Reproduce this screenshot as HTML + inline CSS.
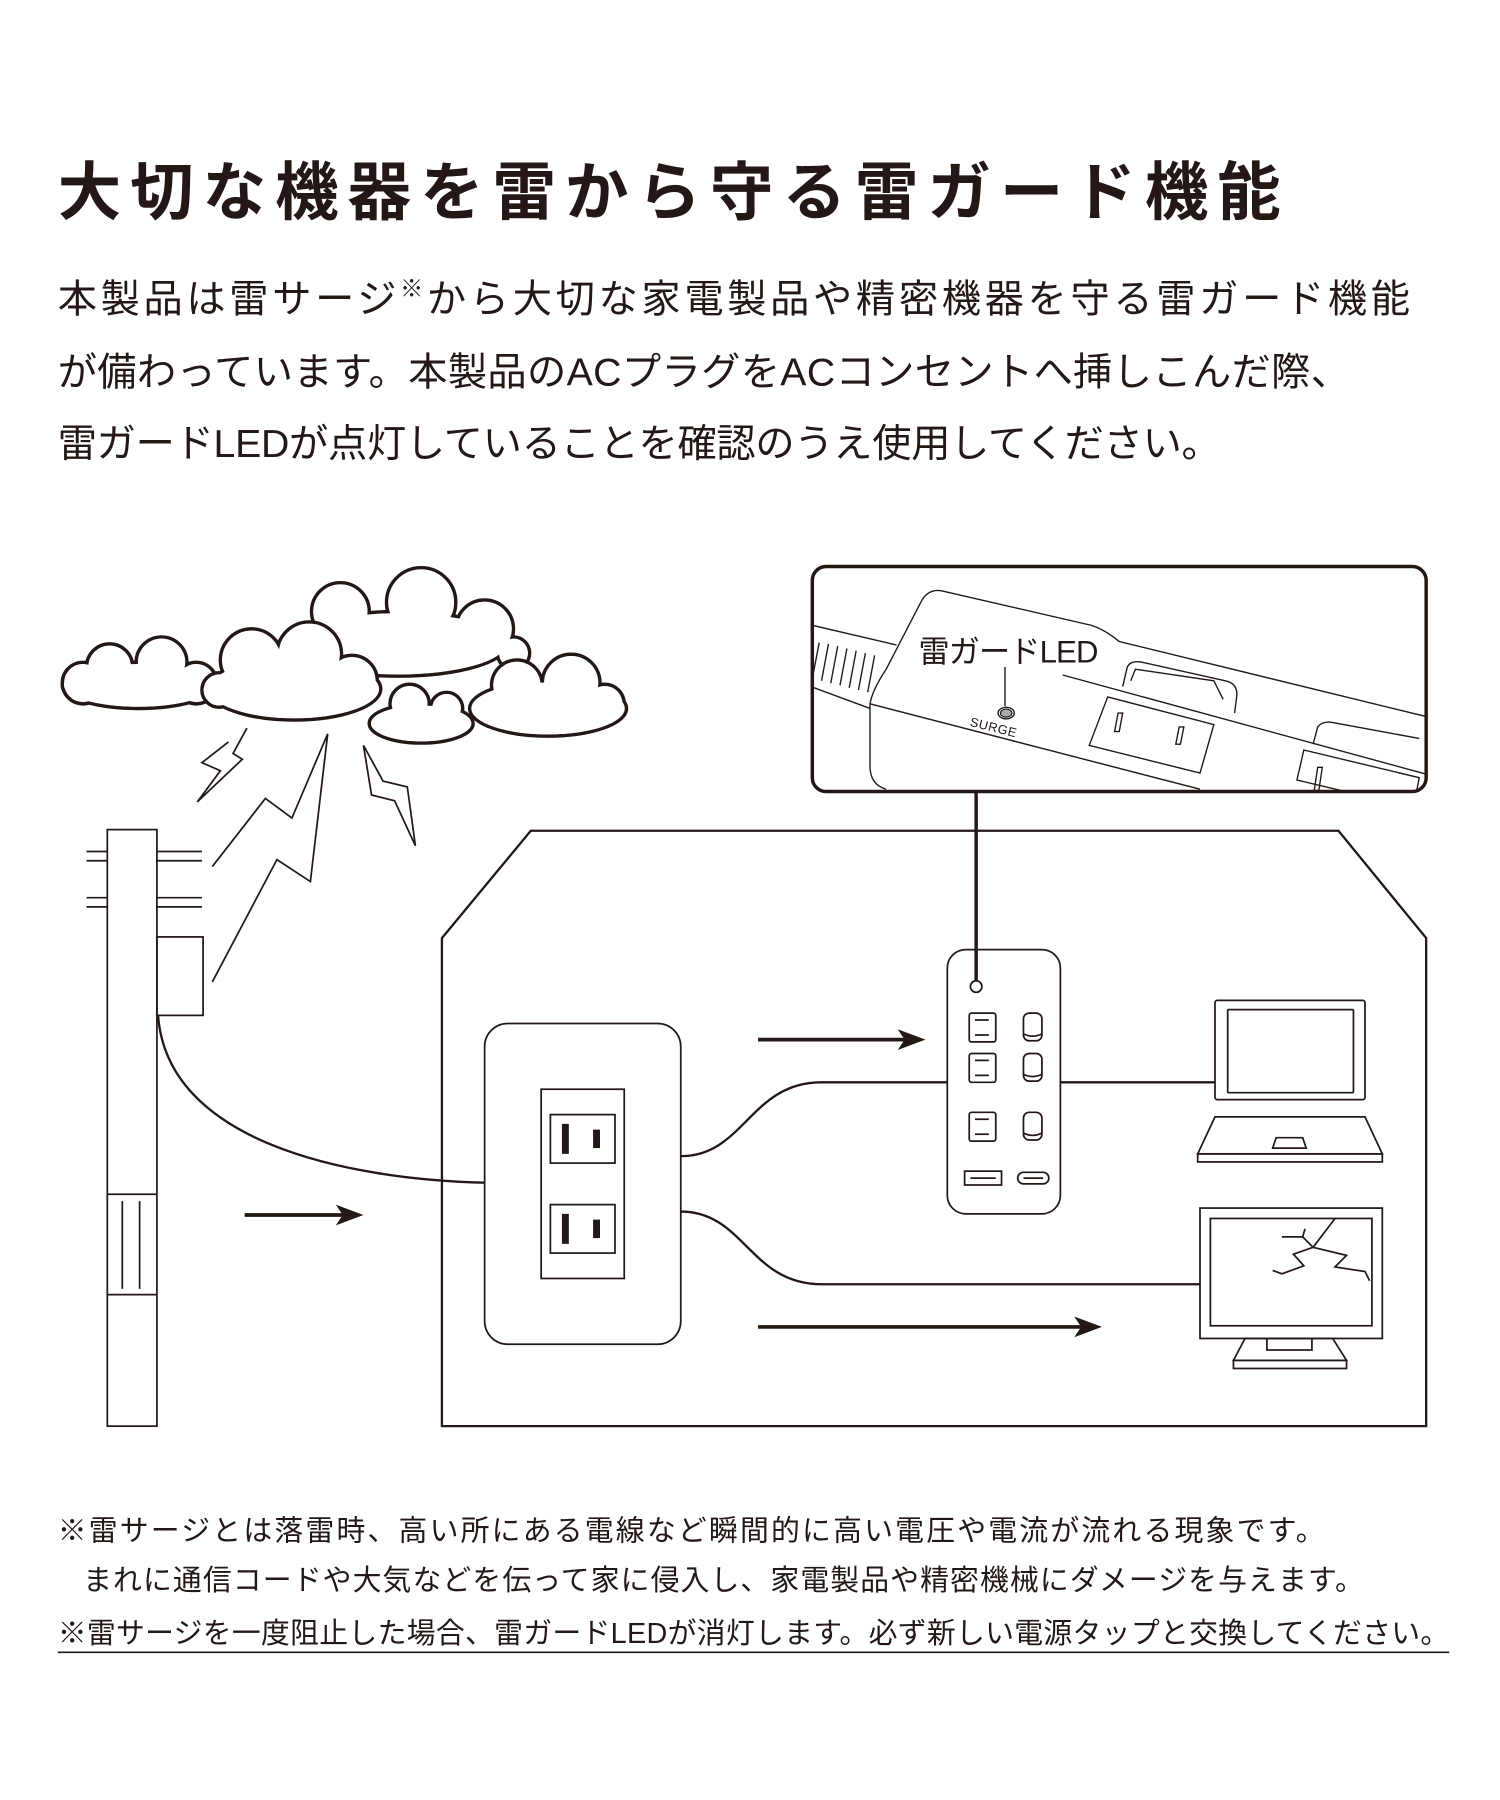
<!DOCTYPE html>
<html><head><meta charset="utf-8"><style>
html,body{margin:0;padding:0;background:#fff;}
svg{display:block;}
text{font-family:"Liberation Sans","Noto Sans CJK JP",sans-serif;fill:#231815;}
</style></head><body>
<svg width="1500" height="1800" viewBox="0 0 1300 1560" xmlns="http://www.w3.org/2000/svg">
<!-- Title -->
<text x="50" y="186" font-size="55" font-weight="700" textLength="1060" lengthAdjust="spacing">大切な機器を雷から守る雷ガード機能</text>
<!-- Body -->
<g font-size="34">
<text x="50" y="271" textLength="1172" lengthAdjust="spacing">本製品は雷サージ<tspan font-size="20" dy="-14">※</tspan><tspan dy="14">から大切な家電製品や精密機器を守る雷ガード機能</tspan></text>
<text x="50" y="334" textLength="1120" lengthAdjust="spacing">が備わっています。本製品のACプラグをACコンセントへ挿しこんだ際、</text>
<text x="50" y="396" textLength="1008" lengthAdjust="spacing">雷ガードLEDが点灯していることを確認のうえ使用してください。</text>
</g>
<!-- Footnotes -->
<g font-size="25">
<text x="50" y="1335" textLength="1098" lengthAdjust="spacing">※雷サージとは落雷時、高い所にある電線など瞬間的に高い電圧や電流が流れる現象です。</text>
<text x="72" y="1378" textLength="1110" lengthAdjust="spacing">まれに通信コードや大気などを伝って家に侵入し、家電製品や精密機械にダメージを与えます。</text>
<text x="50" y="1424" textLength="1206" lengthAdjust="spacing">※雷サージを一度阻止した場合、雷ガードLEDが消灯します。必ず新しい電源タップと交換してください。</text>
</g>
<line x1="50" y1="1432" x2="1256" y2="1432" stroke="#231815" stroke-width="1.5"/>

<g fill="none" stroke="#231815" stroke-width="1.5" stroke-linejoin="miter">
<!-- Clouds -->
<g><g stroke-width="3">
<ellipse cx="345" cy="558" rx="95" ry="28"/><circle cx="295" cy="530" r="25"/><circle cx="365" cy="522" r="30"/><circle cx="420" cy="545" r="25"/><circle cx="445" cy="566" r="14"/></g>
<g fill="#fff" stroke="none"><ellipse cx="345" cy="558" rx="93.5" ry="26.5"/><circle cx="295" cy="530" r="23.5"/><circle cx="365" cy="522" r="28.5"/><circle cx="420" cy="545" r="23.5"/><circle cx="445" cy="566" r="12.5"/></g></g>
<g><g stroke-width="3">
<ellipse cx="120" cy="594" rx="66" ry="20"/><circle cx="95" cy="578" r="20"/><circle cx="140" cy="574" r="22"/><circle cx="72" cy="592" r="18"/><circle cx="170" cy="592" r="18"/></g>
<g fill="#fff" stroke="none"><ellipse cx="120" cy="594" rx="64.5" ry="18.5"/><circle cx="95" cy="578" r="18.5"/><circle cx="140" cy="574" r="20.5"/><circle cx="72" cy="592" r="16.5"/><circle cx="170" cy="592" r="16.5"/></g></g>
<g><g stroke-width="3">
<ellipse cx="475" cy="614" rx="68" ry="24"/><circle cx="448" cy="594" r="22"/><circle cx="495" cy="592" r="25"/><circle cx="524" cy="610" r="17"/></g>
<g fill="#fff" stroke="none"><ellipse cx="475" cy="614" rx="66.5" ry="22.5"/><circle cx="448" cy="594" r="20.5"/><circle cx="495" cy="592" r="23.5"/><circle cx="524" cy="610" r="15.5"/></g></g>
<g><g stroke-width="3">
<ellipse cx="255" cy="597" rx="75" ry="27"/><circle cx="218" cy="572" r="27"/><circle cx="268" cy="567" r="28"/><circle cx="305" cy="590" r="22"/><circle cx="190" cy="598" r="15"/></g>
<g fill="#fff" stroke="none"><ellipse cx="255" cy="597" rx="73.5" ry="25.5"/><circle cx="218" cy="572" r="25.5"/><circle cx="268" cy="567" r="26.5"/><circle cx="305" cy="590" r="20.5"/><circle cx="190" cy="598" r="13.5"/></g></g>
<g><g stroke-width="3">
<ellipse cx="365" cy="627" rx="45" ry="17"/><circle cx="355" cy="610" r="17"/><circle cx="387" cy="614" r="14"/></g>
<g fill="#fff" stroke="none"><ellipse cx="365" cy="627" rx="43.5" ry="15.5"/><circle cx="355" cy="610" r="15.5"/><circle cx="387" cy="614" r="12.5"/></g></g>

<!-- Bolts -->
<polyline points="214,631 202,653 210,658 171,695 191,668 175,661 198,643" />
<polyline points="184,751 230,692 253,709 284,636 269,764 240,745 184,851"/>
<polygon points="315,646 322,689 342,694 360,733 353,682 332,677"/>

<!-- Pole -->
<rect x="93" y="719" width="43" height="517"/>
<line x1="93" y1="1035" x2="136" y2="1035"/><line x1="93" y1="1122" x2="136" y2="1122"/>
<line x1="106" y1="1041" x2="106" y2="1117"/><line x1="121" y1="1041" x2="121" y2="1117"/>
<line x1="75" y1="738" x2="93" y2="738"/><line x1="75" y1="746" x2="93" y2="746"/>
<line x1="75" y1="778" x2="93" y2="778"/><line x1="75" y1="786" x2="93" y2="786"/>
<line x1="136" y1="738" x2="175" y2="738"/><line x1="136" y1="746" x2="175" y2="746"/>
<line x1="136" y1="778" x2="175" y2="778"/><line x1="136" y1="786" x2="175" y2="786"/>
<rect x="136" y="812" width="40" height="68"/>
<path d="M137 880 C 145 990, 300 1022, 420 1025" stroke-width="2"/>

<!-- House -->
<polygon points="383,813 460,720 1160,720 1236,813 1236,1236 383,1236" stroke-width="2"/>

<!-- Outlet -->
<rect x="420" y="887" width="170" height="278" rx="20"/>
<rect x="469" y="944" width="72" height="164"/>
<rect x="477" y="966" width="56" height="42"/>
<rect x="477" y="1044" width="56" height="42"/>
<g fill="#231815" stroke="none">
<rect x="487" y="974" width="6" height="26"/><rect x="514" y="979" width="6" height="16"/>
<rect x="487" y="1052" width="6" height="26"/><rect x="514" y="1057" width="6" height="16"/>
</g>
<!-- Cables -->
<path d="M590 1002 C 645 1002, 650 938, 712 938 L 1053 938" stroke-width="2"/>
<path d="M590 1050 C 645 1050, 650 1113, 712 1113 L 1040 1113" stroke-width="2"/>

<!-- Power strip -->
<rect x="821" y="823" width="98" height="229" rx="16" fill="#fff"/>
<line x1="846" y1="686" x2="846" y2="850" stroke-width="3"/>
<circle cx="846" cy="855" r="5" fill="#fff"/>
<g>
<rect x="840" y="878" width="23" height="25" rx="2"/><line x1="845" y1="884" x2="857" y2="884"/><line x1="845" y1="897" x2="857" y2="897"/>
<rect x="840" y="913" width="23" height="25" rx="2"/><line x1="845" y1="919" x2="857" y2="919"/><line x1="845" y1="932" x2="857" y2="932"/>
<rect x="840" y="964" width="23" height="25" rx="2"/><line x1="845" y1="970" x2="857" y2="970"/><line x1="845" y1="983" x2="857" y2="983"/>
<rect x="887" y="878" width="16" height="24" rx="5"/><path d="M887 896 Q895 900 903 896"/>
<rect x="887" y="913" width="16" height="24" rx="5"/><path d="M887 931 Q895 935 903 931"/>
<rect x="887" y="964" width="16" height="24" rx="5"/><path d="M887 982 Q895 986 903 982"/>
<rect x="836" y="1015" width="32" height="12"/><line x1="841" y1="1021" x2="863" y2="1021"/>
<rect x="882" y="1016" width="27" height="10" rx="5"/><line x1="887" y1="1021" x2="904" y2="1021"/>
</g>

<!-- Laptop -->
<rect x="1053" y="867" width="130" height="86" rx="2"/>
<rect x="1064" y="875" width="109" height="72" rx="1"/>
<polygon points="1053,968 1183,968 1198,1000 1038,1000"/>
<rect x="1038" y="1000" width="160" height="7"/>
<polygon points="1106,986 1129,986 1132,995 1103,995"/>

<!-- Monitor -->
<rect x="1040" y="1047" width="158" height="113"/>
<rect x="1049" y="1056" width="140" height="93"/>
<rect x="1098" y="1160" width="39" height="10"/>
<polygon points="1079,1160 1155,1160 1167,1179 1069,1179"/>
<rect x="1069" y="1179" width="98" height="7"/>
<polyline points="1157,1056 1138,1081"/>
<polyline points="1111,1072 1129,1072 1138,1081"/>
<polyline points="1131,1065 1129,1072"/>
<polyline points="1138,1081 1121,1087 1130,1097 1111,1104 1103,1101"/>
<polyline points="1138,1081 1167,1088 1157,1098 1183,1102 1187,1110"/>

<!-- Arrows -->
<g stroke-width="3.2">
<line x1="212" y1="1053" x2="300" y2="1053"/>
<line x1="657" y1="901" x2="787" y2="901"/>
<line x1="657" y1="1150" x2="940" y2="1150"/>
</g>
<g fill="#231815" stroke="none">
<polygon points="315,1053 291,1044 297,1053 291,1062"/>
<polygon points="802,901 778,892 784,901 778,910"/>
<polygon points="955,1150 931,1141 937,1150 931,1159"/>
</g>

<!-- Callout -->
<clipPath id="cl"><rect x="704" y="491" width="532" height="195" rx="12"/></clipPath>
<g clip-path="url(#cl)" stroke-width="1.2">
<path d="M700 541 L777 559 M700 594 L754 614"/>
<path d="M710 557 L704 588 M718 558 L712 590 M726 560 L720 592 M734 562 L728 594 M742 564 L736 596 M750 566 L744 598 M758 568 L752 600"/>
<path d="M768 684 Q754 680 754 664 L754 610 Q756 598 768 580 L798 522 Q804 510 816 512 L946 542 Q958 546 970 556 L1240 622" fill="#fff"/>
<path d="M754 610 L1040 684"/>
<path d="M921 585 L1240 672"/>
<path d="M973 595 L977 578 Q980 572 990 574 L1062 590 Q1072 592 1072 602 L1070 618"/>
<path d="M980 590 L984 580 L1052 590 L1060 606"/>
<polygon points="960,604 1052,628 1040,670 944,646"/>
<polygon points="969,618 973,618 970,634 966,634"/>
<polygon points="1022,630 1026,630 1023,645 1019,645"/>
<path d="M1138 645 L1142 630 Q1146 625 1154 626 L1230 640"/>
<polygon points="1130,650 1230,674 1225,700 1124,676"/>
<polygon points="1142,665 1146,665 1143,685 1139,685"/>
</g>
<rect x="704" y="491" width="532" height="195" rx="12" stroke-width="3"/>
<line x1="871" y1="578" x2="871" y2="612" stroke-width="1.2"/>
<ellipse cx="872" cy="618" rx="7" ry="5" stroke-width="1.2"/>
<ellipse cx="872" cy="618" rx="5" ry="3.5" fill="#aaa" stroke-width="1"/>
</g>
<text x="796" y="574" font-size="27" textLength="156" lengthAdjust="spacing">雷ガードLED</text>
<text x="840" y="629" font-size="11" transform="rotate(14 840 629)" letter-spacing="0.5">SURGE</text>
</svg>
</body></html>
